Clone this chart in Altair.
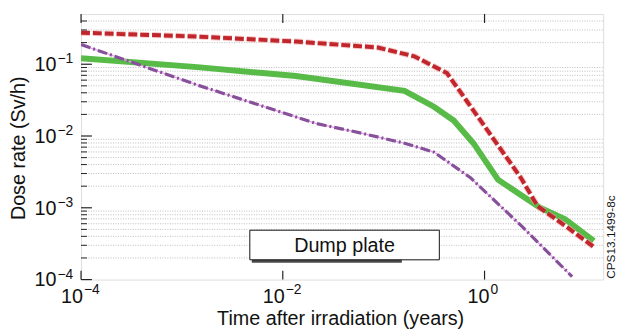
import altair as alt
import pandas as pd

# ---------------- data ----------------
red_time = [1e-4, 1.42e-3, 0.0135, 0.0875, 0.201, 0.424, 0.664, 2.29, 3.36, 6.59, 12.1]
red_dose = [0.275, 0.243, 0.207, 0.171, 0.129, 0.0752, 0.0310, 0.00262, 0.00105, 0.000537, 0.000285]

green_time = [1e-4, 1.42e-3, 0.0135, 0.161, 0.315, 0.495, 0.776, 1.36, 3.51, 6.30, 12.1]
green_dose = [0.121, 0.091, 0.0684, 0.0426, 0.0256, 0.0164, 0.00794, 0.00246, 0.00101, 0.000692, 0.000345]

purple_time = [1e-4, 1.42e-3, 0.0212, 0.0611, 0.161, 0.315, 0.726, 2.39, 7.38]
purple_dose = [0.188, 0.0514, 0.0150, 0.0109, 0.00794, 0.00597, 0.00262, 0.000537, 0.000110]

x_major = [1e-4, 1e-2, 1]
x_exps = ["\u22124", "\u22122", "0"]
y_major = [1e-4, 1e-3, 1e-2, 1e-1]
y_exps = ["\u22124", "\u22123", "\u22122", "\u22121"]
y_minor = [2e-4, 3e-4, 4e-4, 5e-4, 6e-4, 7e-4, 8e-4, 9e-4,
           2e-3, 3e-3, 4e-3, 5e-3, 6e-3, 7e-3, 8e-3, 9e-3,
           2e-2, 3e-2, 4e-2, 5e-2, 6e-2, 7e-2, 8e-2, 9e-2,
           0.2, 0.3, 0.4]

x_title = "Time after irradiation (years)"
y_title = "Dose rate (Sv/h)"
legend_label = "Dump plate"
side_note = "CPS13.1499-8c"

W, H = 529, 269
FONT = "Liberation Sans, Arial, Helvetica, sans-serif"

xs = alt.Scale(type="log", domain=[1e-4, 15], nice=False)
ys = alt.Scale(type="log", domain=[1e-4, 0.5], nice=False)

red = pd.DataFrame({"t": red_time, "d": red_dose})
green = pd.DataFrame({"t": green_time, "d": green_dose})
purple = pd.DataFrame({"t": purple_time, "d": purple_dose})
xmaj = pd.DataFrame({"v": x_major, "e": x_exps, "base": ["10"] * len(x_major)})
ymaj = pd.DataFrame({"v": y_major, "e": y_exps, "base": ["10"] * len(y_major)})
ymin = pd.DataFrame({"v": y_minor})
one = pd.DataFrame({"legend": [legend_label], "note": [side_note],
                    "xt": [x_title], "yt": [y_title]})

# major grid (axis grid only)
grid_x = alt.Chart(xmaj).mark_rule(opacity=0).encode(
    x=alt.X("v:Q", scale=xs, axis=alt.Axis(
        values=x_major, grid=True, gridColor="#cccccc", gridWidth=1,
        labels=False, ticks=False, domain=False, title=None)),
)
grid_y = alt.Chart(ymaj).mark_rule(opacity=0).encode(
    y=alt.Y("v:Q", scale=ys, axis=alt.Axis(
        values=y_major, grid=True, gridColor="#cccccc", gridWidth=1,
        labels=False, ticks=False, domain=False, title=None)),
)

minor_grid = alt.Chart(ymin).mark_rule(color="#bdbdbd", strokeWidth=1, strokeDash=[1, 1.5]).encode(
    y=alt.Y("v:Q", scale=ys, axis=None), x=alt.value(0), x2=alt.value(W))

# ticks (inward)
ytick_major = alt.Chart(ymaj).mark_rule(color="#222", strokeWidth=1.2).encode(
    y=alt.Y("v:Q", scale=ys, axis=None), x=alt.value(0), x2=alt.value(11))
ytick_minor = alt.Chart(ymin).mark_rule(color="#222", strokeWidth=1).encode(
    y=alt.Y("v:Q", scale=ys, axis=None), x=alt.value(0), x2=alt.value(6))
xtick_bot = alt.Chart(xmaj).mark_rule(color="#222", strokeWidth=1.2).encode(
    x=alt.X("v:Q", scale=xs, axis=None), y=alt.value(H), y2=alt.value(H - 9))
xtick_top = alt.Chart(xmaj).mark_rule(color="#222", strokeWidth=1.2).encode(
    x=alt.X("v:Q", scale=xs, axis=None), y=alt.value(0), y2=alt.value(9))

# tick labels 10^n
neg = alt.datum.e != "0"
zero = alt.datum.e == "0"
xl_base_neg = alt.Chart(xmaj).transform_filter(neg).mark_text(
    font=FONT, fontSize=20, align="right", baseline="alphabetic", dx=2, dy=24, color="#111").encode(
    x=alt.X("v:Q", scale=xs, axis=None), y=alt.value(H), text="base:N")
xl_sup_neg = alt.Chart(xmaj).transform_filter(neg).mark_text(
    font=FONT, fontSize=14, align="left", baseline="alphabetic", dx=3, dy=15, color="#111").encode(
    x=alt.X("v:Q", scale=xs, axis=None), y=alt.value(H), text="e:N")
xl_base_zero = alt.Chart(xmaj).transform_filter(zero).mark_text(
    font=FONT, fontSize=20, align="right", baseline="alphabetic", dx=5, dy=24, color="#111").encode(
    x=alt.X("v:Q", scale=xs, axis=None), y=alt.value(H), text="base:N")
xl_sup_zero = alt.Chart(xmaj).transform_filter(zero).mark_text(
    font=FONT, fontSize=14, align="left", baseline="alphabetic", dx=6, dy=15, color="#111").encode(
    x=alt.X("v:Q", scale=xs, axis=None), y=alt.value(H), text="e:N")
yl_base = alt.Chart(ymaj).mark_text(
    font=FONT, fontSize=20, align="right", baseline="alphabetic", dx=-25, dy=7, color="#111").encode(
    y=alt.Y("v:Q", scale=ys, axis=None), x=alt.value(0), text="base:N")
yl_sup = alt.Chart(ymaj).mark_text(
    font=FONT, fontSize=14, align="right", baseline="alphabetic", dx=-8, dy=-1, color="#111").encode(
    y=alt.Y("v:Q", scale=ys, axis=None), x=alt.value(0), text="e:N")

# axis titles
xt = alt.Chart(one).mark_text(font=FONT, fontSize=20, align="center", baseline="alphabetic", color="#111").encode(
    x=alt.value(263), y=alt.value(H + 46), text="xt:N")
yt = alt.Chart(one).mark_text(font=FONT, fontSize=20, angle=270, align="center", baseline="alphabetic", color="#111").encode(
    x=alt.value(-57), y=alt.value(136), text="yt:N")

# curves
enc = dict(x=alt.X("t:Q", scale=xs, axis=None), y=alt.Y("d:Q", scale=ys, axis=None))
green_line = alt.Chart(green).mark_line(color="#58bb48", strokeWidth=6, clip=True).encode(**enc)
red_halo = alt.Chart(red).mark_line(color="#f2a0a0", strokeWidth=6, strokeDash=[9, 3], opacity=0.6, clip=True).encode(**enc)
red_line = alt.Chart(red).mark_line(color="#c0262c", strokeWidth=4, strokeDash=[9, 3], clip=True).encode(**enc)
purple_halo = alt.Chart(purple).mark_line(color="#e69be6", strokeWidth=1.2, clip=True).encode(**enc)
purple_line = alt.Chart(purple).mark_line(color="#86509a", strokeWidth=3.2, strokeDash=[10, 3, 2, 3], clip=True).encode(**enc)

# legend box
shadow = alt.Chart(one).mark_rect(fill="#4a4a4a").encode(
    x=alt.value(173), x2=alt.value(325), y=alt.value(222), y2=alt.value(252))
box = alt.Chart(one).mark_rect(fill="white", stroke="#111", strokeWidth=1).encode(
    x=alt.value(171), x2=alt.value(363), y=alt.value(219), y2=alt.value(249))
box_text = alt.Chart(one).mark_text(font=FONT, fontSize=20, align="center", baseline="middle", color="#111").encode(
    x=alt.value(267), y=alt.value(235), text="legend:N")

note = alt.Chart(one).mark_text(font=FONT, fontSize=12, angle=270, align="center", baseline="alphabetic", color="#111").encode(
    x=alt.value(541), y=alt.value(226), text="note:N")

chart = alt.layer(
    grid_x, grid_y, minor_grid,
    green_line, red_halo, red_line, purple_halo, purple_line,
    ytick_major, ytick_minor, xtick_bot, xtick_top,
    xl_base_neg, xl_sup_neg, xl_base_zero, xl_sup_zero, yl_base, yl_sup,
    xt, yt,
    shadow, box, box_text, note,
).properties(
    width=W, height=H,
    autosize=alt.AutoSizeParams(type="none"),
    padding={"left": 74, "top": 4, "right": 14, "bottom": 52},
).configure_view(stroke="#222", strokeWidth=1.3).configure(background="white")

chart.save("out.html", embed_options={"renderer": "svg", "actions": False})
